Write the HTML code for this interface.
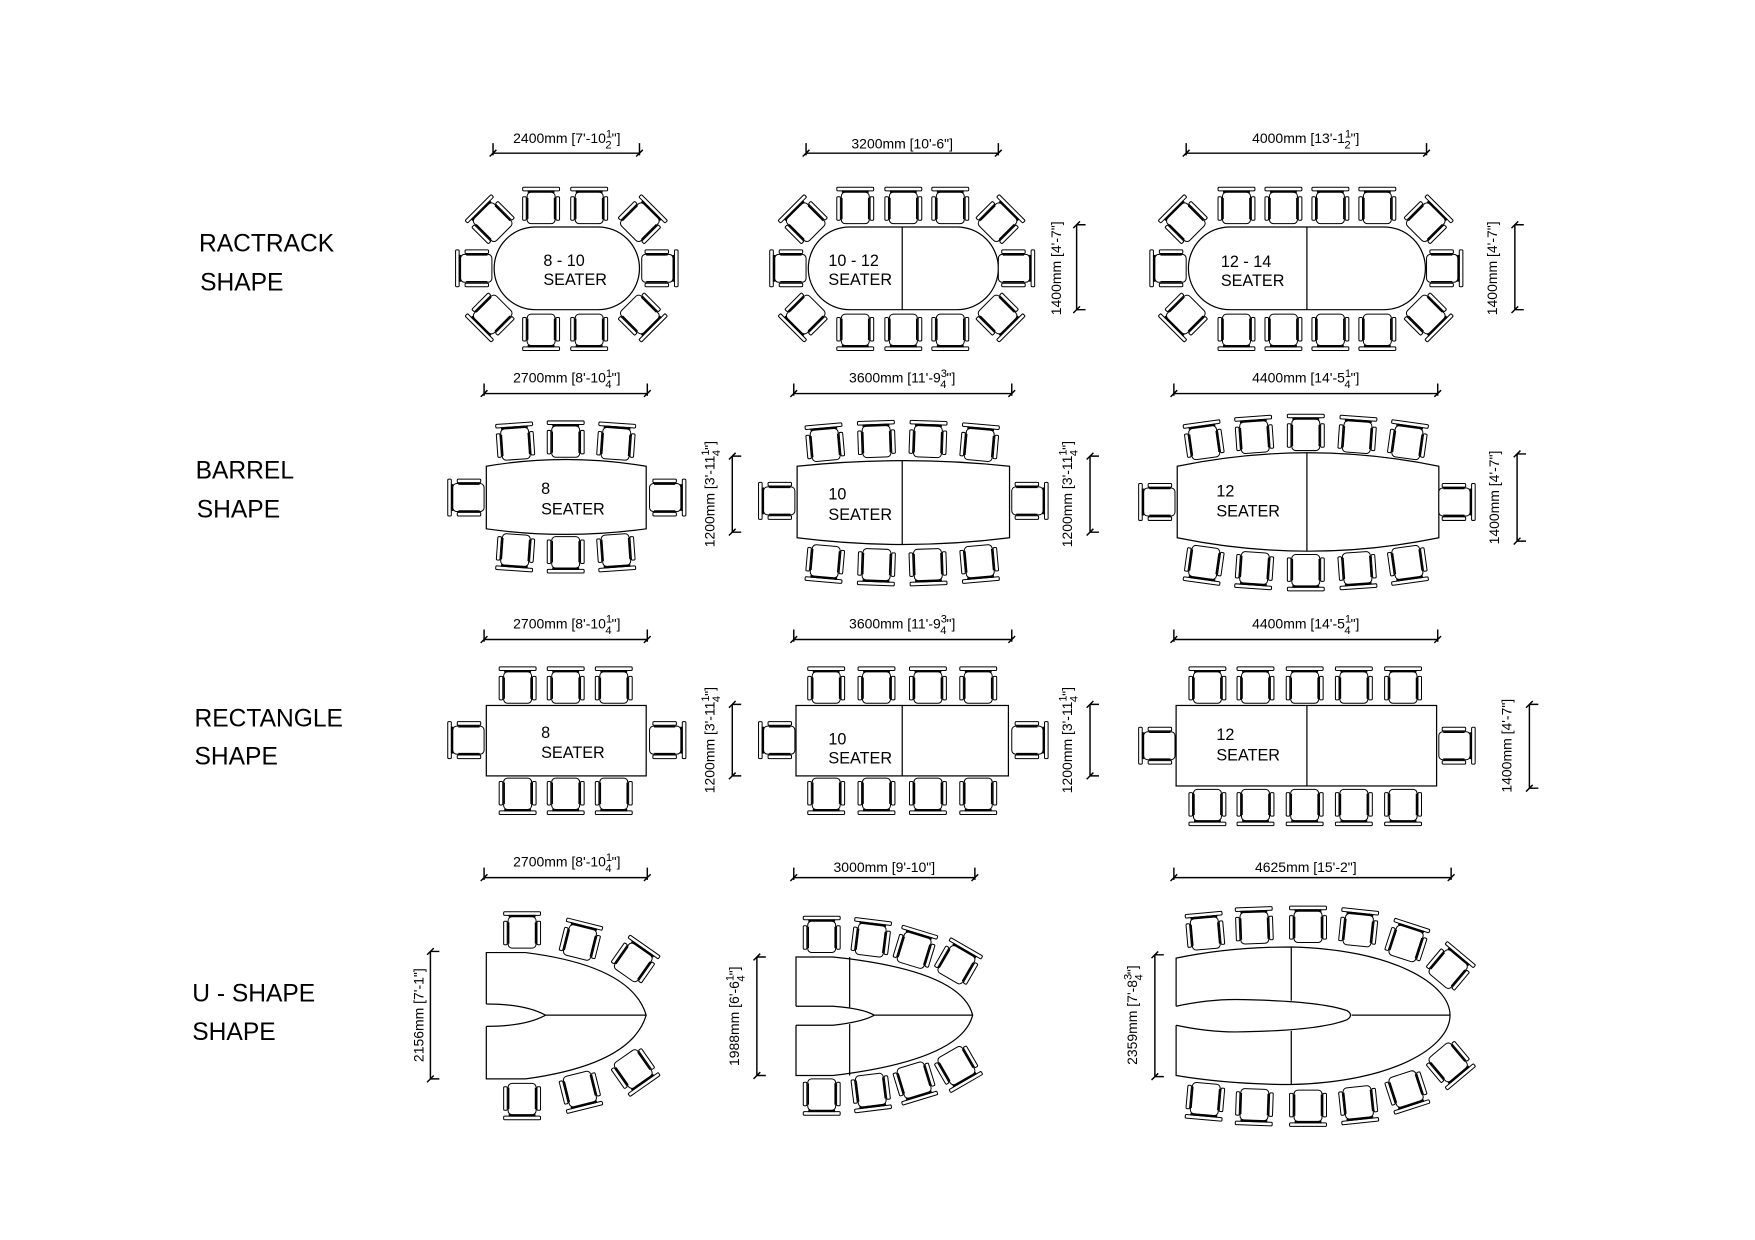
<!DOCTYPE html>
<html><head><meta charset="utf-8"><style>
html,body{margin:0;padding:0;background:#fff}
svg{display:block}
text{font-family:"Liberation Sans",Arial,sans-serif;fill:#000}
.d{font-size:12.5px}
.s{font-size:14.5px}
.h{font-size:22px}
.f{font-size:10px}
</style></head><body>
<svg width="1755" height="1240" viewBox="0 0 1569.8 1109.1" preserveAspectRatio="none" xmlns="http://www.w3.org/2000/svg">
<defs>
<g id="c" fill="#fff" stroke="#000" stroke-width="0.9">
<rect x="-16.5" y="-17.5" width="33" height="3.2" rx="1"/>
<line x1="-12" y1="-13.6" x2="12" y2="-13.6" stroke-width="2.2"/>
<rect x="-12.5" y="-13" width="25" height="28" rx="3.5"/>
<rect x="-16.5" y="-9" width="3.2" height="21" rx="1"/>
<rect x="13.3" y="-9" width="3.2" height="21" rx="1"/>
<line x1="-12" y1="-8" x2="-12" y2="11" stroke-width="1.3"/>
<line x1="12" y1="-8" x2="12" y2="11" stroke-width="1.3"/>
</g>
</defs>
<g fill="none" stroke="#000" stroke-width="1.1">

<g stroke="none">
<text class="h" x="178" y="225">RACTRACK</text><text class="h" x="179" y="260">SHAPE</text>
<text class="h" x="175" y="428">BARREL</text><text class="h" x="176" y="463">SHAPE</text>
<text class="h" x="174" y="650">RECTANGLE</text><text class="h" x="174" y="684">SHAPE</text>
<text class="h" x="172" y="896">U - SHAPE</text><text class="h" x="172" y="930">SHAPE</text>
</g>

<g stroke-width="1.3">
<path d="M441,137H572M441,128V139M572,128V139M438,140L444,134M569,140L575,134"/>
<path d="M721,137H893M721,128V139M893,128V139M718,140L724,134M890,140L896,134"/>
<path d="M1061,137H1276M1061,128V139M1276,128V139M1058,140L1064,134M1273,140L1279,134"/>
<path d="M433,352H579M433,343V354M579,343V354M430,355L436,349M576,355L582,349"/>
<path d="M710,352H905M710,343V354M905,343V354M707,355L713,349M902,355L908,349"/>
<path d="M1050,352H1286M1050,343V354M1286,343V354M1047,355L1053,349M1283,355L1289,349"/>
<path d="M433,572H579M433,563V574M579,563V574M430,575L436,569M576,575L582,569"/>
<path d="M710,572H905M710,563V574M905,563V574M707,575L713,569M902,575L908,569"/>
<path d="M1050,572H1286M1050,563V574M1286,563V574M1047,575L1053,569M1283,575L1289,569"/>
<path d="M433,785H579M433,776V787M579,776V787M430,788L436,782M576,788L582,782"/>
<path d="M710,785H872M710,776V787M872,776V787M707,788L713,782M869,788L875,782"/>
<path d="M1050,785H1298M1050,776V787M1298,776V787M1047,788L1053,782M1295,788L1301,782"/>
<path d="M963,201V277M963,201H971M963,277H971M960,204L966,198M960,280L966,274"/>
<path d="M1355,201V277M1355,201H1363M1355,277H1363M1352,204L1358,198M1352,280L1358,274"/>
<path d="M655,408V476M655,408H663M655,476H663M652,411L658,405M652,479L658,473"/>
<path d="M975,408V476M975,408H983M975,476H983M972,411L978,405M972,479L978,473"/>
<path d="M1357,406V484M1357,406H1365M1357,484H1365M1354,409L1360,403M1354,487L1360,481"/>
<path d="M655,630V694M655,630H663M655,694H663M652,633L658,627M652,697L658,691"/>
<path d="M975,630V694M975,630H983M975,694H983M972,633L978,627M972,697L978,691"/>
<path d="M1368,630V705M1368,630H1376M1368,705H1376M1365,633L1371,627M1365,708L1371,702"/>
<path d="M385,851V965M385,851H393M385,965H393M382,854L388,848M382,968L388,962"/>
<path d="M677,856V962M677,856H685M677,962H685M674,859L680,853M674,965L680,959"/>
<path d="M1033,854V963M1033,854H1041M1033,963H1041M1030,857L1036,851M1030,966L1036,960"/>
</g>

<g stroke="none" class="d" text-anchor="middle">
<text x="507" y="128">2400mm [7'-10<tspan class="f" dy="-5">1</tspan><tspan class="f" dx="-6" dy="10">2</tspan><tspan dy="-5">"]</tspan></text>
<text x="807" y="133">3200mm [10'-6"]</text>
<text x="1168" y="128">4000mm [13'-1<tspan class="f" dy="-5">1</tspan><tspan class="f" dx="-6" dy="10">2</tspan><tspan dy="-5">"]</tspan></text>
<text x="507" y="342">2700mm [8'-10<tspan class="f" dy="-5">1</tspan><tspan class="f" dx="-6" dy="10">4</tspan><tspan dy="-5">"]</tspan></text>
<text x="807" y="342">3600mm [11'-9<tspan class="f" dy="-5">3</tspan><tspan class="f" dx="-6" dy="10">4</tspan><tspan dy="-5">"]</tspan></text>
<text x="1168" y="342">4400mm [14'-5<tspan class="f" dy="-5">1</tspan><tspan class="f" dx="-6" dy="10">4</tspan><tspan dy="-5">"]</tspan></text>
<text x="507" y="562">2700mm [8'-10<tspan class="f" dy="-5">1</tspan><tspan class="f" dx="-6" dy="10">4</tspan><tspan dy="-5">"]</tspan></text>
<text x="807" y="562">3600mm [11'-9<tspan class="f" dy="-5">3</tspan><tspan class="f" dx="-6" dy="10">4</tspan><tspan dy="-5">"]</tspan></text>
<text x="1168" y="562">4400mm [14'-5<tspan class="f" dy="-5">1</tspan><tspan class="f" dx="-6" dy="10">4</tspan><tspan dy="-5">"]</tspan></text>
<text x="507" y="775">2700mm [8'-10<tspan class="f" dy="-5">1</tspan><tspan class="f" dx="-6" dy="10">4</tspan><tspan dy="-5">"]</tspan></text>
<text x="791" y="780">3000mm [9'-10"]</text>
<text x="1168" y="780">4625mm [15'-2"]</text>
<text transform="translate(949,240) rotate(-90)">1400mm [4'-7"]</text>
<text transform="translate(1339,240) rotate(-90)">1400mm [4'-7"]</text>
<text transform="translate(639,442) rotate(-90)">1200mm [3'-11<tspan class="f" dy="-5">1</tspan><tspan class="f" dx="-6" dy="10">4</tspan><tspan dy="-5">"]</tspan></text>
<text transform="translate(959,442) rotate(-90)">1200mm [3'-11<tspan class="f" dy="-5">1</tspan><tspan class="f" dx="-6" dy="10">4</tspan><tspan dy="-5">"]</tspan></text>
<text transform="translate(1341,445) rotate(-90)">1400mm [4'-7"]</text>
<text transform="translate(639,662) rotate(-90)">1200mm [3'-11<tspan class="f" dy="-5">1</tspan><tspan class="f" dx="-6" dy="10">4</tspan><tspan dy="-5">"]</tspan></text>
<text transform="translate(959,662) rotate(-90)">1200mm [3'-11<tspan class="f" dy="-5">1</tspan><tspan class="f" dx="-6" dy="10">4</tspan><tspan dy="-5">"]</tspan></text>
<text transform="translate(1352,667) rotate(-90)">1400mm [4'-7"]</text>
<text transform="translate(379,908) rotate(-90)">2156mm [7'-1"]</text>
<text transform="translate(661,909) rotate(-90)">1988mm [6'-6<tspan class="f" dy="-5">1</tspan><tspan class="f" dx="-6" dy="10">4</tspan><tspan dy="-5">"]</tspan></text>
<text transform="translate(1017,908) rotate(-90)">2359mm [7'-8<tspan class="f" dy="-5">3</tspan><tspan class="f" dx="-6" dy="10">4</tspan><tspan dy="-5">"]</tspan></text>
</g>

<rect x="442" y="203" width="130" height="74" rx="37"/>
<rect x="723" y="203" width="170" height="74" rx="37"/><line x1="807" y1="203" x2="807" y2="277"/>
<rect x="1063" y="203" width="212" height="74" rx="37"/><line x1="1169" y1="203" x2="1169" y2="277"/>
<g stroke="none" class="s">
<text x="486" y="238">8 - 10</text><text x="486" y="255">SEATER</text>
<text x="741" y="238">10 - 12</text><text x="741" y="255">SEATER</text>
<text x="1092" y="239">12 - 14</text><text x="1092" y="256">SEATER</text>
</g>
<use href="#c" transform="translate(484,185)"/><use href="#c" transform="translate(527,185)"/>
<use href="#c" transform="translate(484,296) rotate(180)"/><use href="#c" transform="translate(527,296) rotate(180)"/>
<use href="#c" transform="translate(425,240) rotate(-90)"/><use href="#c" transform="translate(589,240) rotate(90)"/>
<use href="#c" transform="translate(440,198) rotate(-45)"/><use href="#c" transform="translate(573,198) rotate(45)"/>
<use href="#c" transform="translate(440,282) rotate(-135)"/><use href="#c" transform="translate(573,282) rotate(135)"/>

<use href="#c" transform="translate(765,185)"/><use href="#c" transform="translate(808,185)"/><use href="#c" transform="translate(850,185)"/>
<use href="#c" transform="translate(765,296) rotate(180)"/><use href="#c" transform="translate(808,296) rotate(180)"/><use href="#c" transform="translate(850,296) rotate(180)"/>
<use href="#c" transform="translate(706,240) rotate(-90)"/><use href="#c" transform="translate(908,240) rotate(90)"/>
<use href="#c" transform="translate(720,198) rotate(-45)"/><use href="#c" transform="translate(893,198) rotate(45)"/>
<use href="#c" transform="translate(720,282) rotate(-135)"/><use href="#c" transform="translate(893,282) rotate(135)"/>

<use href="#c" transform="translate(1106,185)"/><use href="#c" transform="translate(1148,185)"/><use href="#c" transform="translate(1190,185)"/><use href="#c" transform="translate(1232,185)"/>
<use href="#c" transform="translate(1106,296) rotate(180)"/><use href="#c" transform="translate(1148,296) rotate(180)"/><use href="#c" transform="translate(1190,296) rotate(180)"/><use href="#c" transform="translate(1232,296) rotate(180)"/>
<use href="#c" transform="translate(1046,240) rotate(-90)"/><use href="#c" transform="translate(1291,240) rotate(90)"/>
<use href="#c" transform="translate(1060,198) rotate(-45)"/><use href="#c" transform="translate(1276,198) rotate(45)"/>
<use href="#c" transform="translate(1060,282) rotate(-135)"/><use href="#c" transform="translate(1276,282) rotate(135)"/>

<path d="M435,417Q506,405 578,417L578,473Q506,483 435,473Z"/>
<path d="M713,417Q808,407 903,417L903,481Q808,493 713,481Z"/><line x1="807" y1="412" x2="807" y2="487"/>
<path d="M1053,417Q1170,393 1287,417L1287,481Q1170,505 1053,481Z"/><line x1="1169" y1="405" x2="1169" y2="493"/>
<g stroke="none" class="s">
<text x="484" y="442">8</text><text x="484" y="460">SEATER</text>
<text x="741" y="447">10</text><text x="741" y="465">SEATER</text>
<text x="1088" y="444">12</text><text x="1088" y="462">SEATER</text>
</g>
<use href="#c" transform="translate(461,396) rotate(-4)"/><use href="#c" transform="translate(506,394)"/><use href="#c" transform="translate(551,396) rotate(4)"/>
<use href="#c" transform="translate(461,493) rotate(184)"/><use href="#c" transform="translate(506,495) rotate(180)"/><use href="#c" transform="translate(551,493) rotate(176)"/>
<use href="#c" transform="translate(418,445) rotate(-90)"/><use href="#c" transform="translate(596,445) rotate(90)"/>

<use href="#c" transform="translate(738,397) rotate(-5)"/><use href="#c" transform="translate(784,394) rotate(-2)"/><use href="#c" transform="translate(830,394) rotate(2)"/><use href="#c" transform="translate(876,397) rotate(5)"/>
<use href="#c" transform="translate(738,503) rotate(185)"/><use href="#c" transform="translate(784,506) rotate(182)"/><use href="#c" transform="translate(830,506) rotate(178)"/><use href="#c" transform="translate(876,503) rotate(175)"/>
<use href="#c" transform="translate(696,448) rotate(-90)"/><use href="#c" transform="translate(920,448) rotate(90)"/>

<use href="#c" transform="translate(1077,395) rotate(-8)"/><use href="#c" transform="translate(1122,390) rotate(-4)"/><use href="#c" transform="translate(1168,388)"/><use href="#c" transform="translate(1214,390) rotate(4)"/><use href="#c" transform="translate(1259,395) rotate(8)"/>
<use href="#c" transform="translate(1077,504) rotate(188)"/><use href="#c" transform="translate(1122,509) rotate(184)"/><use href="#c" transform="translate(1168,511) rotate(180)"/><use href="#c" transform="translate(1214,509) rotate(176)"/><use href="#c" transform="translate(1259,504) rotate(172)"/>
<use href="#c" transform="translate(1036,449) rotate(-90)"/><use href="#c" transform="translate(1302,449) rotate(90)"/>

<rect x="435" y="631" width="143" height="63"/>
<rect x="712" y="631" width="190" height="63"/><line x1="807" y1="631" x2="807" y2="694"/>
<rect x="1052" y="631" width="233" height="72"/><line x1="1169" y1="631" x2="1169" y2="703"/>
<g stroke="none" class="s">
<text x="484" y="660">8</text><text x="484" y="678">SEATER</text>
<text x="741" y="666">10</text><text x="741" y="683">SEATER</text>
<text x="1088" y="662">12</text><text x="1088" y="680">SEATER</text>
</g>
<use href="#c" transform="translate(463,614)"/><use href="#c" transform="translate(506,614)"/><use href="#c" transform="translate(549,614)"/>
<use href="#c" transform="translate(463,711) rotate(180)"/><use href="#c" transform="translate(506,711) rotate(180)"/><use href="#c" transform="translate(549,711) rotate(180)"/>
<use href="#c" transform="translate(418,662) rotate(-90)"/><use href="#c" transform="translate(596,662) rotate(90)"/>

<use href="#c" transform="translate(739,614)"/><use href="#c" transform="translate(784,614)"/><use href="#c" transform="translate(830,614)"/><use href="#c" transform="translate(875,614)"/>
<use href="#c" transform="translate(739,711) rotate(180)"/><use href="#c" transform="translate(784,711) rotate(180)"/><use href="#c" transform="translate(830,711) rotate(180)"/><use href="#c" transform="translate(875,711) rotate(180)"/>
<use href="#c" transform="translate(696,662) rotate(-90)"/><use href="#c" transform="translate(920,662) rotate(90)"/>

<use href="#c" transform="translate(1080,614)"/><use href="#c" transform="translate(1123,614)"/><use href="#c" transform="translate(1167,614)"/><use href="#c" transform="translate(1211,614)"/><use href="#c" transform="translate(1255,614)"/>
<use href="#c" transform="translate(1080,721) rotate(180)"/><use href="#c" transform="translate(1123,721) rotate(180)"/><use href="#c" transform="translate(1167,721) rotate(180)"/><use href="#c" transform="translate(1211,721) rotate(180)"/><use href="#c" transform="translate(1255,721) rotate(180)"/>
<use href="#c" transform="translate(1036,667) rotate(-90)"/><use href="#c" transform="translate(1302,667) rotate(90)"/>

<path d="M435,898V852L470,852Q565,864 578,908Q565,952 470,965L435,965V918"/>
<path d="M435,898Q470,898 488,908Q470,918 435,918M488,908H578"/>
<use href="#c" transform="translate(467,833)"/><use href="#c" transform="translate(519,842) rotate(14)"/><use href="#c" transform="translate(567,860) rotate(35)"/>
<use href="#c" transform="translate(467,984) rotate(180)"/><use href="#c" transform="translate(519,975) rotate(166)"/><use href="#c" transform="translate(567,957) rotate(145)"/>

<path d="M712,900V856L745,856Q860,868 870,908Q860,948 745,962L712,962V917"/>
<path d="M712,900L745,900Q772,902 782,908Q772,914 745,917L712,917M782,908H870M760,856V901M760,916V962"/>
<use href="#c" transform="translate(735,837)"/><use href="#c" transform="translate(779,840) rotate(7)"/><use href="#c" transform="translate(818,849) rotate(17)"/><use href="#c" transform="translate(856,862) rotate(30)"/>
<use href="#c" transform="translate(735,980) rotate(180)"/><use href="#c" transform="translate(779,976) rotate(173)"/><use href="#c" transform="translate(818,967) rotate(163)"/><use href="#c" transform="translate(856,954) rotate(150)"/>

<path d="M1052,900V857Q1100,847 1155,847C1245,849 1297,880 1297,908C1297,937 1245,968 1155,970Q1100,970 1052,962V917"/>
<path d="M1052,900Q1080,894 1105,894Q1180,895 1205,904Q1211,908 1205,912Q1180,922 1105,923Q1080,923 1052,917M1209,908H1297M1155,847V895M1155,922V970"/>
<use href="#c" transform="translate(1078,834) rotate(-5)"/><use href="#c" transform="translate(1122,829) rotate(-2)"/><use href="#c" transform="translate(1170,828)"/><use href="#c" transform="translate(1215,831) rotate(6)"/><use href="#c" transform="translate(1258,843) rotate(18)"/><use href="#c" transform="translate(1296,866) rotate(40)"/>
<use href="#c" transform="translate(1078,984) rotate(185)"/><use href="#c" transform="translate(1122,989) rotate(182)"/><use href="#c" transform="translate(1170,990) rotate(180)"/><use href="#c" transform="translate(1215,987) rotate(174)"/><use href="#c" transform="translate(1258,975) rotate(162)"/><use href="#c" transform="translate(1296,951) rotate(140)"/>
</g>
</svg>
</body></html>
